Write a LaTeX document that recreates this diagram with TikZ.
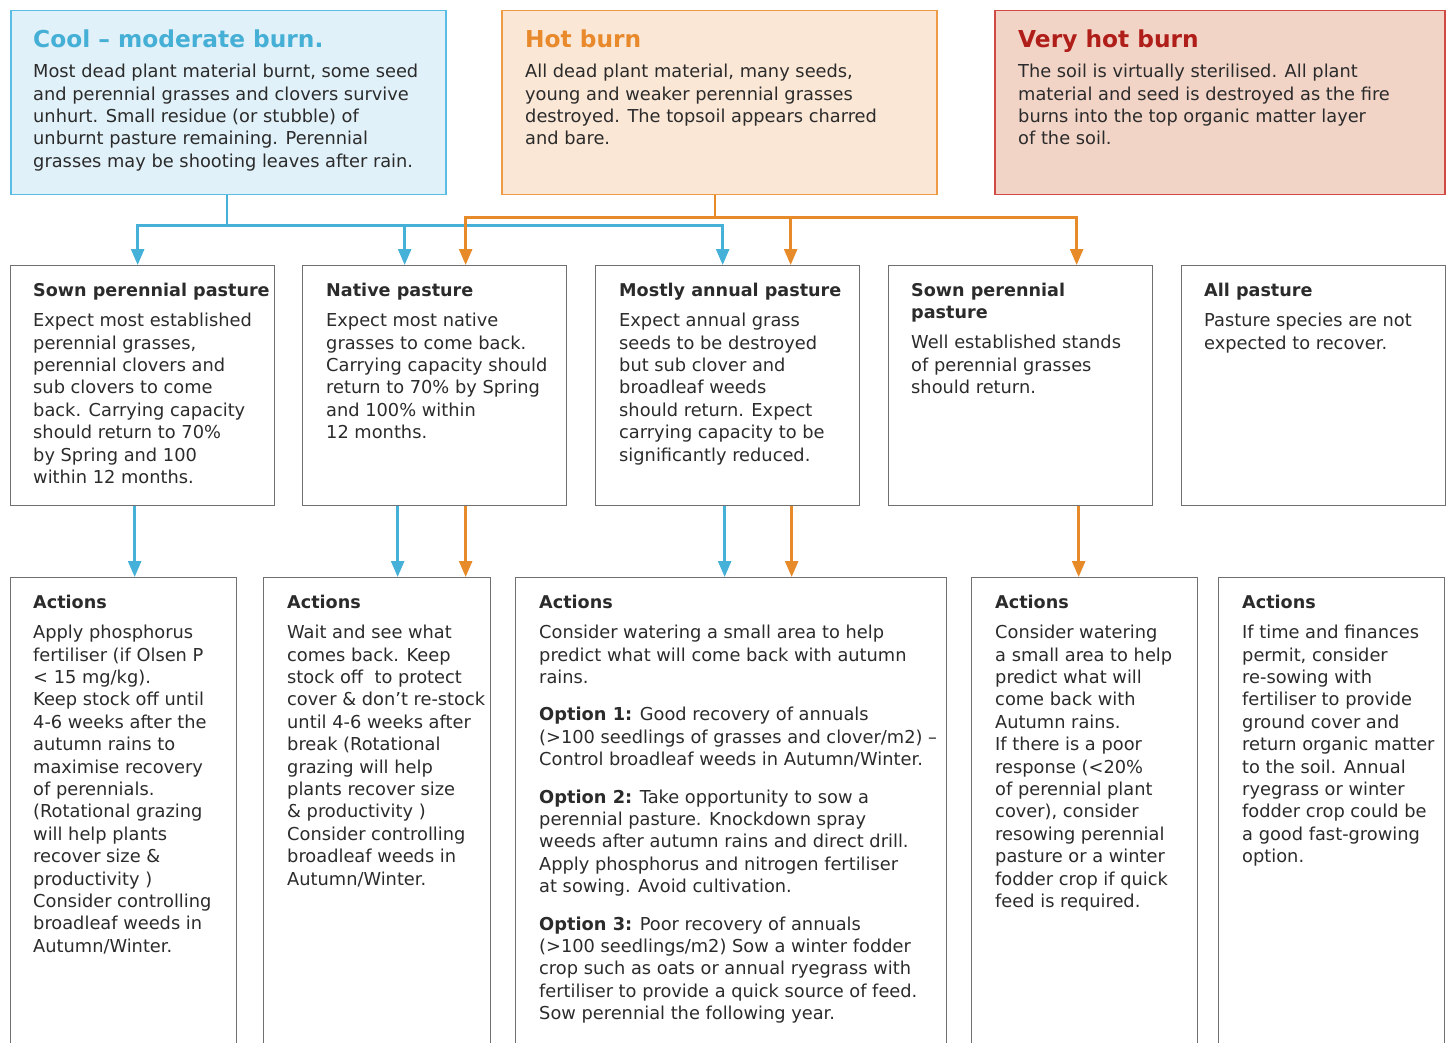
\documentclass[tikz,border=0pt]{standalone}
\usepackage{fontspec}
\setmainfont{DejaVu Sans}
\usepackage{tikz}
\usetikzlibrary{arrows.meta}

\definecolor{coolfill}{HTML}{E1F1F9}
\definecolor{coolline}{HTML}{5BBDE3}
\definecolor{coolhead}{HTML}{45AFD6}
\definecolor{hotfill}{HTML}{FBE7D5}
\definecolor{hotline}{HTML}{EF9A45}
\definecolor{hothead}{HTML}{E8892B}
\definecolor{vhotfill}{HTML}{F2D4C7}
\definecolor{vhotline}{HTML}{D04A45}
\definecolor{vhothead}{HTML}{B01E1A}
\definecolor{boxgray}{HTML}{707070}
\definecolor{ink}{HTML}{2B2B2B}
\definecolor{arrblue}{HTML}{45B0D8}
\definecolor{arrorange}{HTML}{E68A2A}

\tikzset{
  burnbox/.style={rectangle,anchor=north west,inner sep=0pt,line width=1.5pt,minimum height=184pt},
  pastbox/.style={rectangle,draw=boxgray,anchor=north west,inner sep=0pt,line width=1.3pt,minimum width=264pt,minimum height=240pt},
  actbox/.style={rectangle,draw=boxgray,anchor=north west,inner sep=0pt,line width=1.3pt,minimum height=490pt},
  burnhead/.style={anchor=base west,inner sep=0pt,font=\fontsize{23.3}{30}\selectfont\bfseries},
  pasthead/.style={anchor=north west,inner sep=0pt,align=left,text=ink,font=\fontsize{17.6}{22.4}\selectfont\bfseries},
  bodytext/.style={anchor=north west,inner sep=0pt,align=left,text=ink,font=\fontsize{17.8}{22.4}\selectfont},
  bluearr/.style={draw=arrblue,line width=2.5pt,-{Triangle[width=13pt,length=16pt]}},
  orangearr/.style={draw=arrorange,line width=2.5pt,-{Triangle[width=13pt,length=16pt]}}
}

\begin{document}
\begin{tikzpicture}[x=1pt,y=-1pt]
\useasboundingbox (0,0) rectangle (1451,1043);
\clip (0,0) rectangle (1451,1043);

% kinds of burn
\node at (10,10) [burnbox,fill=coolfill,draw=coolline,minimum width=435pt] (cool) {};
\node at (501,10) [burnbox,fill=hotfill,draw=hotline,minimum width=435pt] (hot) {};
\node at (994,10) [burnbox,fill=vhotfill,draw=vhotline,minimum width=450pt] (vhot) {};
\node at (33,48) [burnhead,text=coolhead] (coolT) {Cool – moderate burn.};
\node at (33,64) [bodytext] (coolB) {Most dead plant material burnt, some seed\\and perennial grasses and clovers survive\\unhurt. Small residue (or stubble) of\\unburnt pasture remaining. Perennial\\grasses may be shooting leaves after rain.};
\node at (525,48) [burnhead,text=hothead] (hotT) {Hot burn};
\node at (525,64) [bodytext] (hotB) {All dead plant material, many seeds,\\young and weaker perennial grasses\\destroyed. The topsoil appears charred\\and bare.};
\node at (1018,48) [burnhead,text=vhothead] (vhotT) {Very hot burn};
\node at (1018,64) [bodytext] (vhotB) {The soil is virtually sterilised. All plant\\material and seed is destroyed as the fire\\burns into the top organic matter layer\\of the soil.};

% kinds of pasture
\node at (10,265) [pastbox] (sown) {};
\node at (302,265) [pastbox] (native) {};
\node at (595,265) [pastbox] (annual) {};
\node at (888,265) [pastbox] (peren) {};
\node at (1181,265) [pastbox] (allp) {};
\node at (33,283) [pasthead] (sownT) {Sown perennial pasture};
\node at (33,313) [bodytext] (sownB) {Expect most established\\perennial grasses,\\perennial clovers and\\sub clovers to come\\back. Carrying capacity\\should return to 70\%\\by Spring and 100\\within 12 months.};
\node at (326,283) [pasthead] (nativeT) {Native pasture};
\node at (326,313) [bodytext] (nativeB) {Expect most native\\grasses to come back.\\Carrying capacity should\\return to 70\% by Spring\\and 100\% within\\12 months.};
\node at (619,283) [pasthead] (annualT) {Mostly annual pasture};
\node at (619,313) [bodytext] (annualB) {Expect annual grass\\seeds to be destroyed\\but sub clover and\\broadleaf weeds\\should return. Expect\\carrying capacity to be\\significantly reduced.};
\node at (911,283) [pasthead] (perenT) {Sown perennial\\pasture};
\node at (911,335) [bodytext] (perenB) {Well established stands\\of perennial grasses\\should return.};
\node at (1204,283) [pasthead] (allpT) {All pasture};
\node at (1204,313) [bodytext] (allpB) {Pasture species are not\\expected to recover.};

% actions
\node at (10,577) [actbox,minimum width=226pt] (actSown) {};
\node at (263,577) [actbox,minimum width=227pt] (actNative) {};
\node at (515,577) [actbox,minimum width=431pt] (actAnnual) {};
\node at (971,577) [actbox,minimum width=226pt] (actPeren) {};
\node at (1218,577) [actbox,minimum width=226pt] (actAll) {};
\node at (33,595) [pasthead] (actSownT) {Actions};
\node at (33,625) [bodytext] (actSownB) {Apply phosphorus\\fertiliser (if Olsen P\\< 15 mg/kg).\\Keep stock off until\\4-6 weeks after the\\autumn rains to\\maximise recovery\\of perennials.\\(Rotational grazing\\will help plants\\recover size \&\\productivity )\\Consider controlling\\broadleaf weeds in\\Autumn/Winter.};
\node at (287,595) [pasthead] (actNativeT) {Actions};
\node at (287,625) [bodytext] (actNativeB) {Wait and see what\\comes back. Keep\\stock off~ to protect\\cover \& don’t re-stock\\until 4-6 weeks after\\break (Rotational\\grazing will help\\plants recover size\\\& productivity )\\Consider controlling\\broadleaf weeds in\\Autumn/Winter.};
\node at (539,595) [pasthead] (actAnnualT) {Actions};
\node at (539,625) [bodytext] (actAnnualB) {Consider watering a small area to help\\predict what will come back with autumn\\rains.\\[15pt]
\textbf{Option 1:} Good recovery of annuals\\(>100 seedlings of grasses and clover/m2) –\\Control broadleaf weeds in Autumn/Winter.\\[15pt]
\textbf{Option 2:} Take opportunity to sow a\\perennial pasture. Knockdown spray\\weeds after autumn rains and direct drill.\\Apply phosphorus and nitrogen fertiliser\\at sowing. Avoid cultivation.\\[15pt]
\textbf{Option 3:} Poor recovery of annuals\\(>100 seedlings/m2) Sow a winter fodder\\crop such as oats or annual ryegrass with\\fertiliser to provide a quick source of feed.\\Sow perennial the following year.};
\node at (995,595) [pasthead] (actPerenT) {Actions};
\node at (995,625) [bodytext] (actPerenB) {Consider watering\\a small area to help\\predict what will\\come back with\\Autumn rains.\\If there is a poor\\response (<20\%\\of perennial plant\\cover), consider\\resowing perennial\\pasture or a winter\\fodder crop if quick\\feed is required.};
\node at (1242,595) [pasthead] (actAllT) {Actions};
\node at (1242,625) [bodytext] (actAllB) {If time and finances\\permit, consider\\re-sowing with\\fertiliser to provide\\ground cover and\\return organic matter\\to the soil. Annual\\ryegrass or winter\\fodder crop could be\\a good fast-growing\\option.};

% cool burn connectors
\draw[draw=arrblue,line width=2.5pt] ([xshift=-1.5pt]cool.south) -- ++(0,30) coordinate (cj);
\draw[bluearr] (cj) -| ([xshift=-5pt]sown.north);
\draw[bluearr] (cj) -| ([xshift=-30pt]native.north);
\draw[bluearr] (cj) -| ([xshift=-5pt]annual.north);
\draw[bluearr] ([xshift=-8pt]sown.south) -- ([xshift=-8pt]sown.south |- actSown.north);
\draw[bluearr] ([xshift=-37pt]native.south) -- ([xshift=-37pt]native.south |- actNative.north);
\draw[bluearr] ([xshift=-3pt]annual.south) -- ([xshift=-3pt]annual.south |- actAnnual.north);

% hot burn connectors
\draw[draw=arrorange,line width=2.5pt] ([xshift=-4.5pt]hot.south) -- ++(0,22) coordinate (hj);
\draw[orangearr] (hj) -| ([xshift=31pt]native.north);
\draw[orangearr] (hj) -| ([xshift=63pt]annual.north);
\draw[orangearr] (hj) -| ([xshift=56pt]peren.north);
\draw[orangearr] ([xshift=31pt]native.south) -- ([xshift=31pt]native.south |- actNative.north);
\draw[orangearr] ([xshift=64pt]annual.south) -- ([xshift=64pt]annual.south |- actAnnual.north);
\draw[orangearr] ([xshift=58pt]peren.south) -- ([xshift=58pt]peren.south |- actPeren.north);
\end{tikzpicture}
\end{document}
